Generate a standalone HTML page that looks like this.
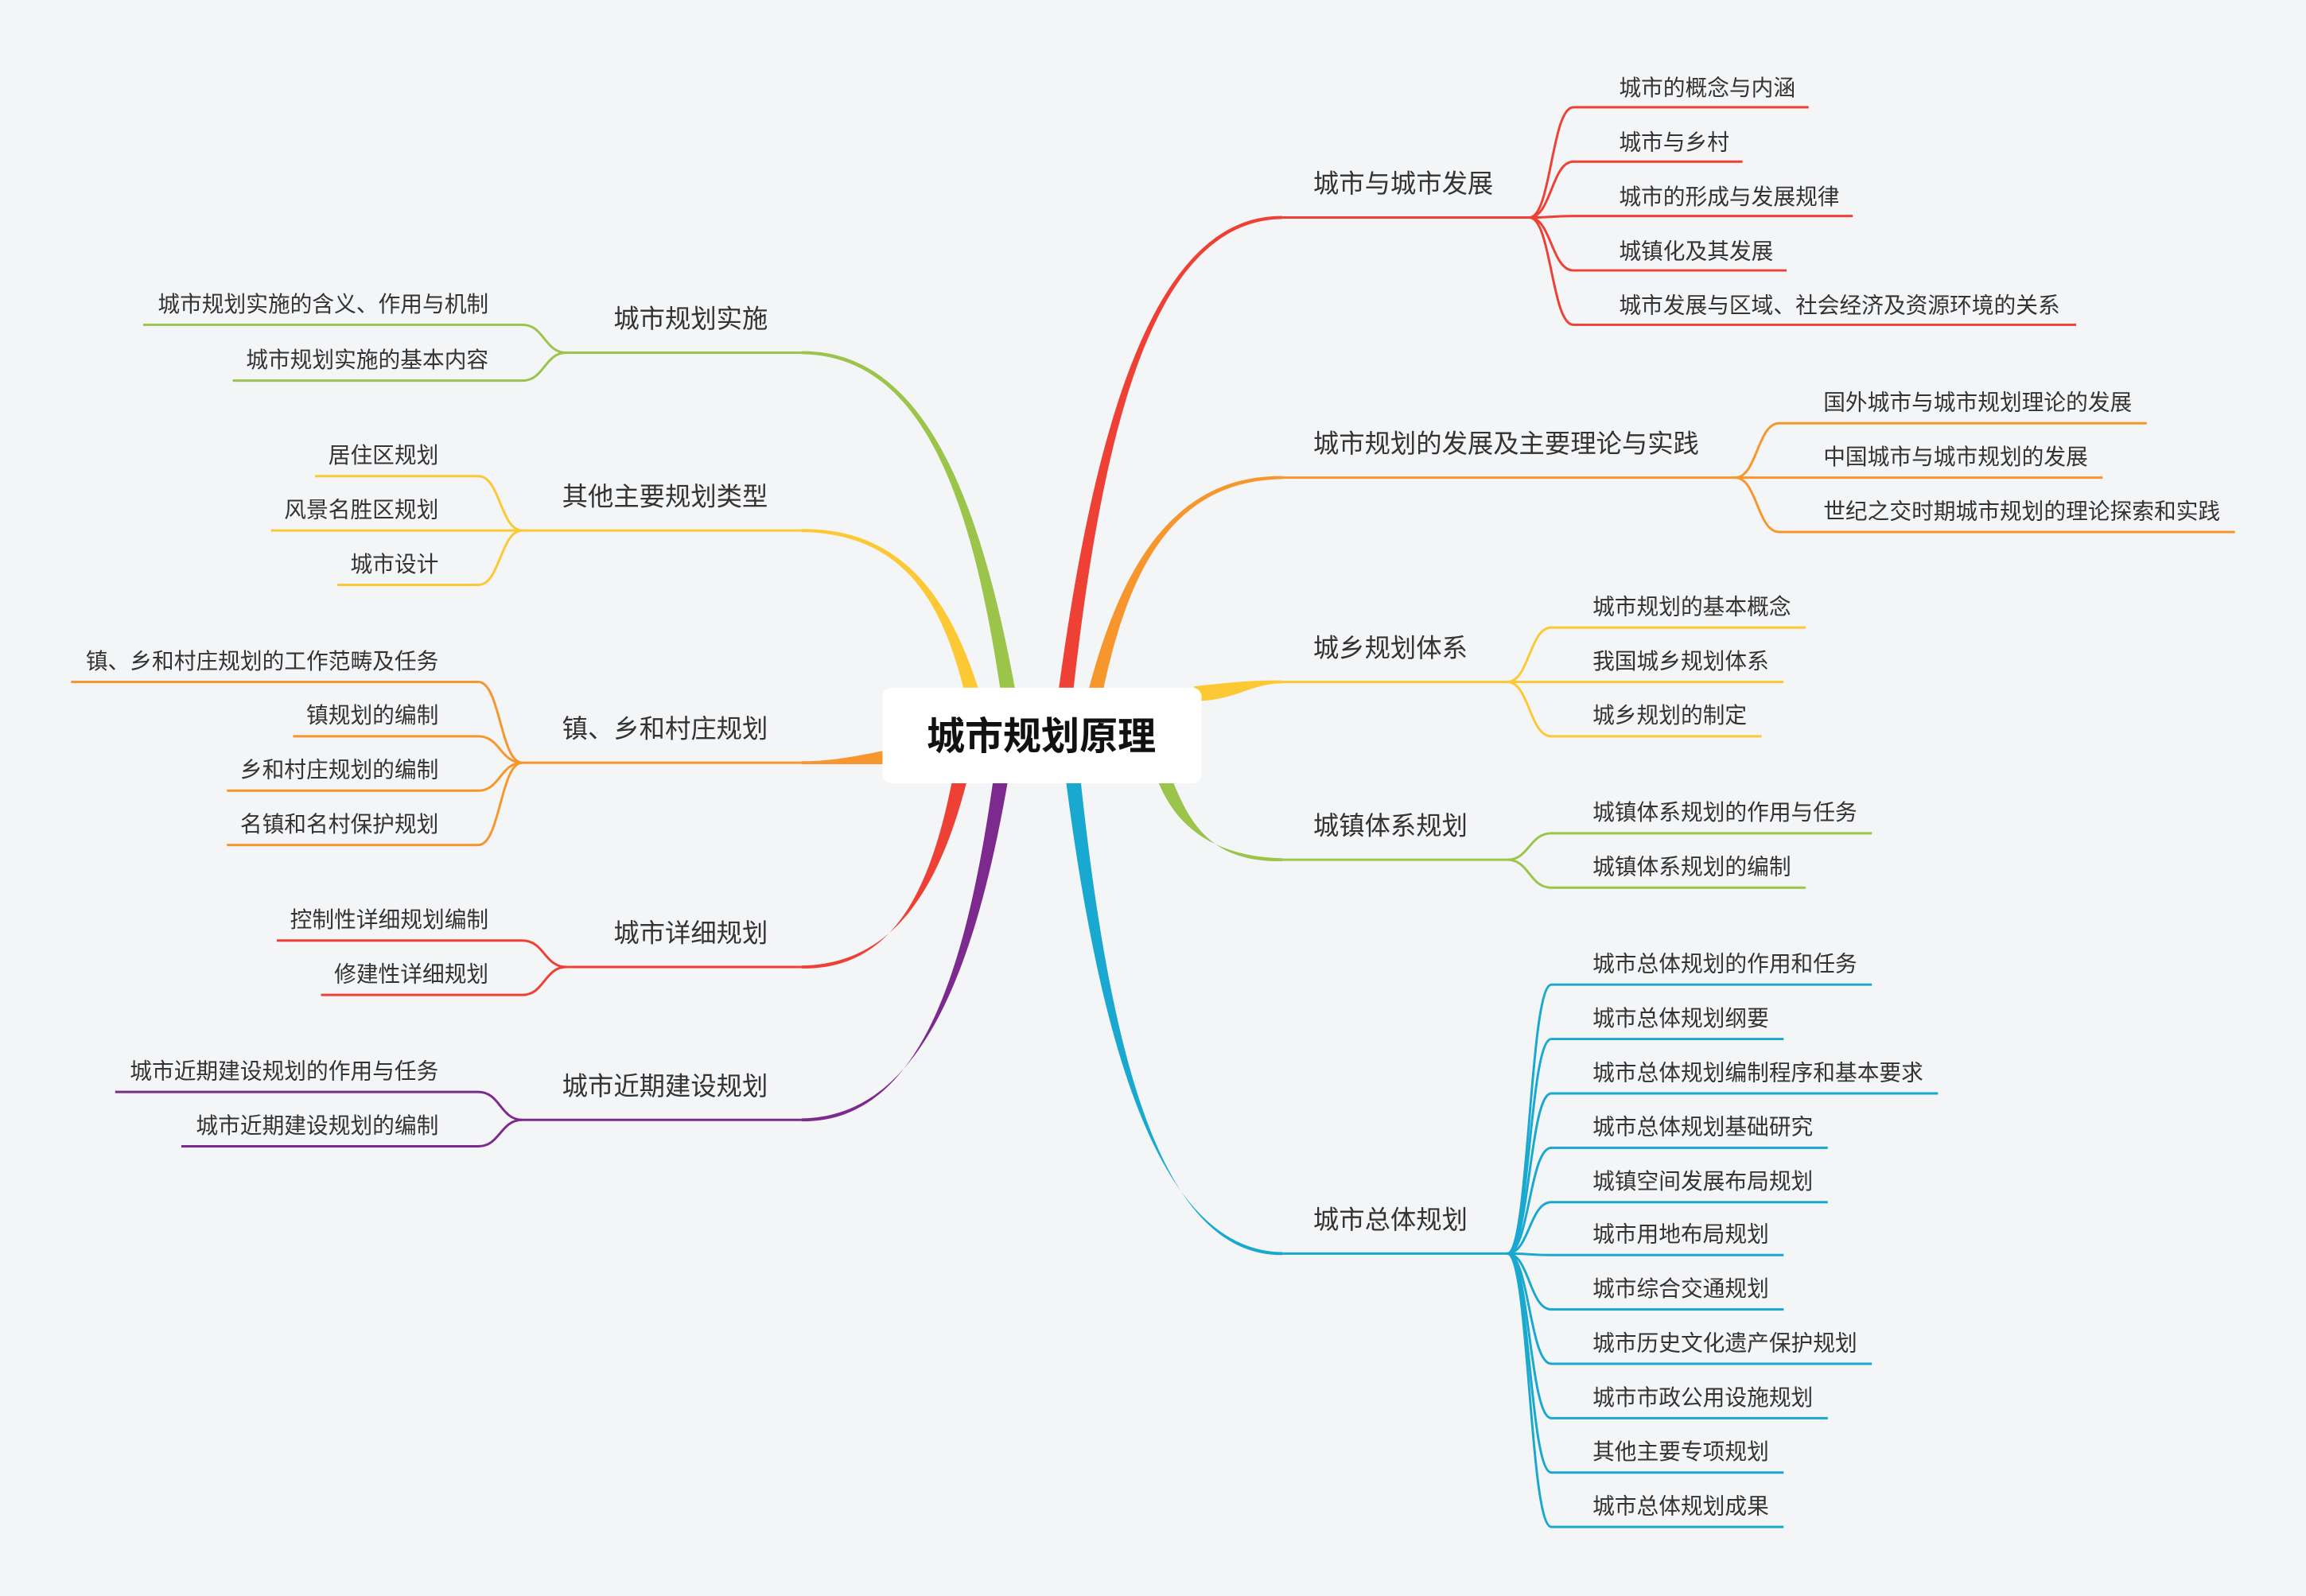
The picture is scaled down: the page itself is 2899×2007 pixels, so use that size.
<!DOCTYPE html>
<html><head><meta charset="utf-8"><style>
html,body{margin:0;padding:0;background:#f4f5f7;}
svg{display:block}
text{font-family:"Liberation Sans","Noto Sans CJK SC",sans-serif;fill:#333;}
.c{font-size:15px}
.b{font-size:17.5px}
</style></head><body>
<svg width="2899" height="2007" viewBox="0 0 1568 1086" xmlns="http://www.w3.org/2000/svg">
<rect width="1568" height="1086" fill="#f4f5f7"/>
<g fill="none" stroke-width="1.6">
<g stroke="#ee4035">
<path d="M872,148 H1040"/>
<path d="M1040,148 C1055,148 1055,73 1070,73 H1230"/>
<path d="M1040,148 C1055,148 1055,110 1070,110 H1185"/>
<path d="M1040,148 C1055,148 1055,147 1070,147 H1260"/>
<path d="M1040,148 C1055,148 1055,184 1070,184 H1215"/>
<path d="M1040,148 C1055,148 1055,221 1070,221 H1412"/>
</g>
<g stroke="#f7962c">
<path d="M872,325 H1180"/>
<path d="M1180,325 C1195,325 1195,288 1210,288 H1460"/>
<path d="M1180,325 C1195,325 1195,325 1210,325 H1430"/>
<path d="M1180,325 C1195,325 1195,362 1210,362 H1520"/>
</g>
<g stroke="#fcc934">
<path d="M872,464 H1025"/>
<path d="M1025,464 C1040,464 1040,427 1055,427 H1228"/>
<path d="M1025,464 C1040,464 1040,464 1055,464 H1213"/>
<path d="M1025,464 C1040,464 1040,501 1055,501 H1198"/>
</g>
<g stroke="#9ac44a">
<path d="M872,585 H1025"/>
<path d="M1025,585 C1040,585 1040,567 1055,567 H1273"/>
<path d="M1025,585 C1040,585 1040,604 1055,604 H1228"/>
</g>
<g stroke="#19a8cf">
<path d="M872,853 H1025"/>
<path d="M1025,853 C1040,853 1040,670 1055,670 H1273"/>
<path d="M1025,853 C1040,853 1040,707 1055,707 H1213"/>
<path d="M1025,853 C1040,853 1040,744 1055,744 H1318"/>
<path d="M1025,853 C1040,853 1040,781 1055,781 H1243"/>
<path d="M1025,853 C1040,853 1040,818 1055,818 H1243"/>
<path d="M1025,853 C1040,853 1040,854 1055,854 H1213"/>
<path d="M1025,853 C1040,853 1040,891 1055,891 H1213"/>
<path d="M1025,853 C1040,853 1040,928 1055,928 H1273"/>
<path d="M1025,853 C1040,853 1040,965 1055,965 H1243"/>
<path d="M1025,853 C1040,853 1040,1002 1055,1002 H1213"/>
<path d="M1025,853 C1040,853 1040,1039 1055,1039 H1213"/>
</g>
<g stroke="#9ac44a">
<path d="M545,240 H385"/>
<path d="M385,240 C370,240 370,221 355,221 H97"/>
<path d="M385,240 C370,240 370,259 355,259 H158"/>
</g>
<g stroke="#fcc934">
<path d="M545,361 H355"/>
<path d="M355,361 C340,361 340,324 325,324 H214"/>
<path d="M355,361 C340,361 340,361 325,361 H184"/>
<path d="M355,361 C340,361 340,398 325,398 H229"/>
</g>
<g stroke="#f7962c">
<path d="M545,519 H355"/>
<path d="M355,519 C340,519 340,464 325,464 H48"/>
<path d="M355,519 C340,519 340,501 325,501 H199"/>
<path d="M355,519 C340,519 340,538 325,538 H154"/>
<path d="M355,519 C340,519 340,575 325,575 H154"/>
</g>
<g stroke="#ee4035">
<path d="M545,658 H385"/>
<path d="M385,658 C370,658 370,640 355,640 H188"/>
<path d="M385,658 C370,658 370,677 355,677 H218"/>
</g>
<g stroke="#7d2a8e">
<path d="M545,762 H355"/>
<path d="M355,762 C340,762 340,743 325,743 H78"/>
<path d="M355,762 C340,762 340,780 325,780 H123"/>
</g>
</g>
<path fill="#ee4035" d="M720,468 C744,292 784,146 872,147 L872,149 C784,150 750,292 730,468 Z"/>
<path fill="#f7962c" d="M740,470 C761,390 796,323 872,324 L872,326 C796,327 767,390 750,470 Z"/>
<path fill="#fcc934" d="M812,467 C840,464 850,463 872,463 L872,465 C850,465 840,477 812,477 Z"/>
<path fill="#9ac44a" d="M788,533 C800,562 825,583 872,584 L872,586 C825,587 810,562 798,533 Z"/>
<path fill="#19a8cf" d="M725,533 C748,709 787,851 872,852 L872,854 C787,855 754,709 735,533 Z"/>
<path fill="#9ac44a" d="M690,468 C667,343 629,238 545,239 L545,241 C629,242 661,343 680,468 Z"/>
<path fill="#fcc934" d="M665,468 C646,409 614,359 545,360 L545,362 C614,363 640,409 655,468 Z"/>
<path fill="#f7962c" d="M605,510 C580,515 565,518 545,518 L545,520 C565,520 580,520 605,520 Z"/>
<path fill="#ee4035" d="M657,533 C639,602 609,656 545,657 L545,659 C609,660 633,602 647,533 Z"/>
<path fill="#7d2a8e" d="M685,533 C663,659 626,760 545,761 L545,763 C626,764 657,659 675,533 Z"/>
<rect x="600" y="468" width="217" height="65" rx="6" fill="#fff"/>
<text x="708" y="510" text-anchor="middle" style="font-size:26px;font-weight:bold;fill:#111">城市规划原理</text>
<g class="b">
<text x="893" y="131">城市与城市发展</text>
<text x="893" y="308">城市规划的发展及主要理论与实践</text>
<text x="893" y="447">城乡规划体系</text>
<text x="893" y="568">城镇体系规划</text>
<text x="893" y="836">城市总体规划</text>
</g>
<g class="b" text-anchor="end">
<text x="522" y="223">城市规划实施</text>
<text x="522" y="344">其他主要规划类型</text>
<text x="522" y="502">镇、乡和村庄规划</text>
<text x="522" y="641">城市详细规划</text>
<text x="522" y="745">城市近期建设规划</text>
</g>
<g class="c">
<text x="1101" y="65">城市的概念与内涵</text>
<text x="1101" y="102">城市与乡村</text>
<text x="1101" y="139">城市的形成与发展规律</text>
<text x="1101" y="176">城镇化及其发展</text>
<text x="1101" y="213">城市发展与区域、社会经济及资源环境的关系</text>
<text x="1240" y="279">国外城市与城市规划理论的发展</text>
<text x="1240" y="316">中国城市与城市规划的发展</text>
<text x="1240" y="353">世纪之交时期城市规划的理论探索和实践</text>
<text x="1083" y="418">城市规划的基本概念</text>
<text x="1083" y="455">我国城乡规划体系</text>
<text x="1083" y="492">城乡规划的制定</text>
<text x="1083" y="558">城镇体系规划的作用与任务</text>
<text x="1083" y="595">城镇体系规划的编制</text>
<text x="1083" y="661">城市总体规划的作用和任务</text>
<text x="1083" y="698">城市总体规划纲要</text>
<text x="1083" y="735">城市总体规划编制程序和基本要求</text>
<text x="1083" y="772">城市总体规划基础研究</text>
<text x="1083" y="809">城镇空间发展布局规划</text>
<text x="1083" y="845">城市用地布局规划</text>
<text x="1083" y="882">城市综合交通规划</text>
<text x="1083" y="919">城市历史文化遗产保护规划</text>
<text x="1083" y="956">城市市政公用设施规划</text>
<text x="1083" y="993">其他主要专项规划</text>
<text x="1083" y="1030">城市总体规划成果</text>
</g>
<g class="c" text-anchor="end">
<text x="332" y="212">城市规划实施的含义、作用与机制</text>
<text x="332" y="250">城市规划实施的基本内容</text>
<text x="298" y="315">居住区规划</text>
<text x="298" y="352">风景名胜区规划</text>
<text x="298" y="389">城市设计</text>
<text x="298" y="455">镇、乡和村庄规划的工作范畴及任务</text>
<text x="298" y="492">镇规划的编制</text>
<text x="298" y="529">乡和村庄规划的编制</text>
<text x="298" y="566">名镇和名村保护规划</text>
<text x="332" y="631">控制性详细规划编制</text>
<text x="332" y="668">修建性详细规划</text>
<text x="298" y="734">城市近期建设规划的作用与任务</text>
<text x="298" y="771">城市近期建设规划的编制</text>
</g>
</svg>
</body></html>
